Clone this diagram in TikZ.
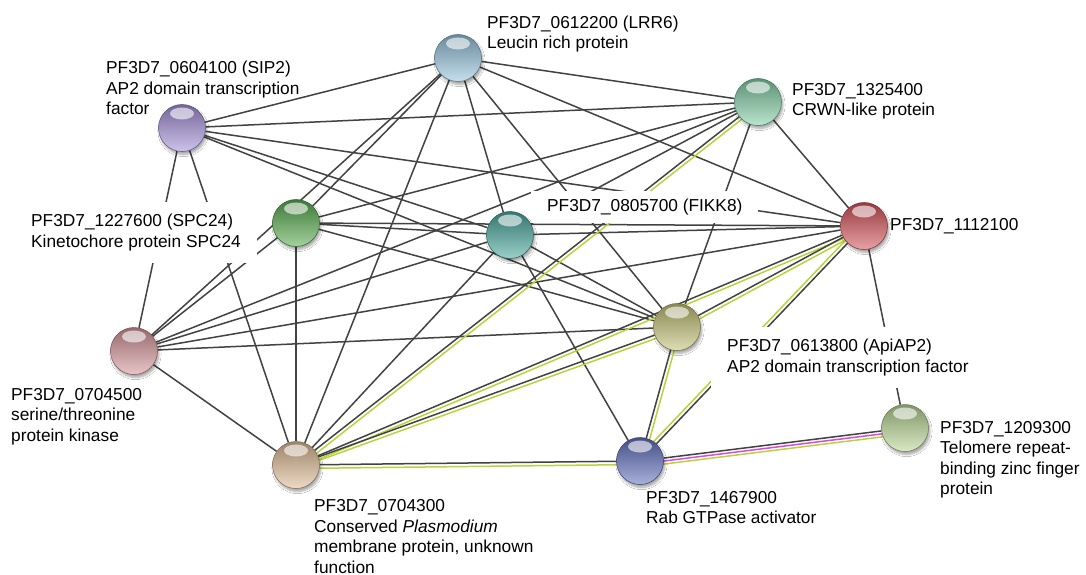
\documentclass[tikz,border=0pt]{standalone}
\usepackage{fontspec}
\setmainfont{Liberation Sans}
\usetikzlibrary{calc,backgrounds,shadows.blur}
\definecolor{lineGray}{RGB}{66,66,66}
\definecolor{lineGreen}{RGB}{184,212,58}
\definecolor{lineMag}{RGB}{222,72,222}
\definecolor{colLRR}{RGB}{150,196,222}
\definecolor{colSIP}{RGB}{165,145,218}
\definecolor{colCRWN}{RGB}{130,206,165}
\definecolor{colSPC}{RGB}{88,172,78}
\definecolor{colFIKK}{RGB}{74,168,158}
\definecolor{colRed}{RGB}{214,84,90}
\definecolor{colKin}{RGB}{214,150,155}
\definecolor{colApi}{RGB}{196,194,118}
\definecolor{colTelo}{RGB}{184,214,148}
\definecolor{colMemb}{RGB}{224,188,150}
\definecolor{colRab}{RGB}{98,112,190}

\begin{document}
\begin{tikzpicture}[
                  x=1pt,y=-1pt,
                  font=\fontsize{17.3}{20.5}\selectfont,
                  prot/.style={circle,minimum size=47pt,inner sep=0pt,
                    top color=#1!70!black,bottom color=#1!55!white,draw=#1!55!black,line width=0.5pt,
                    blur shadow={shadow xshift=1.5pt,shadow yshift=-3pt,shadow opacity=35,shadow blur steps=6},
                    path picture={\fill[white,opacity=0.6] ([yshift=-9pt]path picture bounding box.north) ellipse (12 and 6);}},
                  lbl/.style={align=left,inner sep=0pt,anchor=base west},
                  hide/.style={fill=white,inner xsep=16pt,inner ysep=12pt},
                  lnk/.style={draw=lineGray,line width=1.5pt},
                  grn/.style={draw=lineGreen,line width=1.5pt},
                  mag/.style={draw=lineMag,line width=1.5pt}
                ]
                \useasboundingbox (0,0) rectangle (1086,575);

                % labels (anchored on the baseline of their last line)
                \node[lbl] (lrr6txt) at (487,49) {PF3D7\_0612200 (LRR6)\\Leucin rich protein};
                \node[lbl] (sip2txt) at (106,114.5) {PF3D7\_0604100 (SIP2)\\AP2 domain transcription\\factor};
                \node[lbl] (crwntxt) at (792,115.5) {PF3D7\_1325400\\CRWN-like protein};
                \node[lbl,hide] (spc24txt) at (15,247.2) {PF3D7\_1227600 (SPC24)\\Kinetochore protein SPC24};
                \node[lbl,hide,inner ysep=8pt] (fikk8txt) at (531,211.5) {PF3D7\_0805700 (FIKK8)};
                \node[lbl] (redtxt) at (890,230) {PF3D7\_1112100};
                \node[lbl] (kintxt) at (11,441) {PF3D7\_0704500\\serine/threonine\\protein kinase};
                \node[lbl,hide] (apitxt) at (711,372.2) {PF3D7\_0613800 (ApiAP2)\\AP2 domain transcription factor};
                \node[lbl] (telotxt) at (940,494.8) {PF3D7\_1209300\\Telomere repeat-\\binding zinc finger\\protein};
                \node[lbl] (membtxt) at (314,573.2) {PF3D7\_0704300\\Conserved \textit{Plasmodium}\\membrane protein, unknown\\function};
                \node[lbl] (rabtxt) at (646,523.8) {PF3D7\_1467900\\Rab GTPase activator};

                % proteins
                \node[prot=colLRR] (lrr6) at (458,58) {};
                \node[prot=colSIP] (sip2) at (182,128) {};
                \node[prot=colCRWN] (crwn) at (758,102) {};
                \node[prot=colSPC] (spc24) at (296,223) {};
                \node[prot=colFIKK] (fikk8) at (510,235) {};
                \node[prot=colRed] (red) at (864,226) {};
                \node[prot=colKin] (kin) at (134,351) {};
                \node[prot=colApi] (api) at (677,327) {};
                \node[prot=colTelo] (telo) at (905,428) {};
                \node[prot=colMemb] (memb) at (296,465) {};
                \node[prot=colRab] (rab) at (640,461) {};

                \begin{scope}[on background layer]
                \fill[white] (0,0) rectangle (1086,575);
                \foreach \a/\b in {lrr6/sip2,lrr6/crwn,lrr6/spc24,lrr6/fikk8,lrr6/red,lrr6/kin,lrr6/api,lrr6/memb,
                                   sip2/crwn,sip2/fikk8,sip2/red,sip2/kin,sip2/api,sip2/memb,
                                   crwn/spc24,crwn/fikk8,crwn/red,crwn/kin,crwn/api,
                                   spc24/fikk8,spc24/red,spc24/kin,spc24/api,spc24/memb,
                                   fikk8/red,fikk8/kin,fikk8/api,fikk8/memb,fikk8/rab,
                                   red/kin,red/telo,kin/api,kin/memb}
                  \draw[lnk] (\a) -- (\b);
                \foreach \a/\b/\s/\t in {memb/crwn/-90/90,memb/red/-90/90,memb/api/-90/90,memb/rab/-90/90,
                                         rab/api/-90/90,rab/red/90/-90,api/red/-90/90}{
                  \draw[lnk] (\a) -- (\b);
                  \draw[grn] ($(\a)!3.5pt!\s:(\b)$) -- ($(\b)!3.5pt!\t:(\a)$);
                }
                \draw[lnk] (rab) -- (telo);
                \draw[mag] ($(rab)!3pt!-90:(telo)$) -- ($(telo)!3pt!90:(rab)$);
                \draw[grn] ($(rab)!6pt!-90:(telo)$) -- ($(telo)!6pt!90:(rab)$);
                \end{scope}
                \end{tikzpicture}
\end{document}
